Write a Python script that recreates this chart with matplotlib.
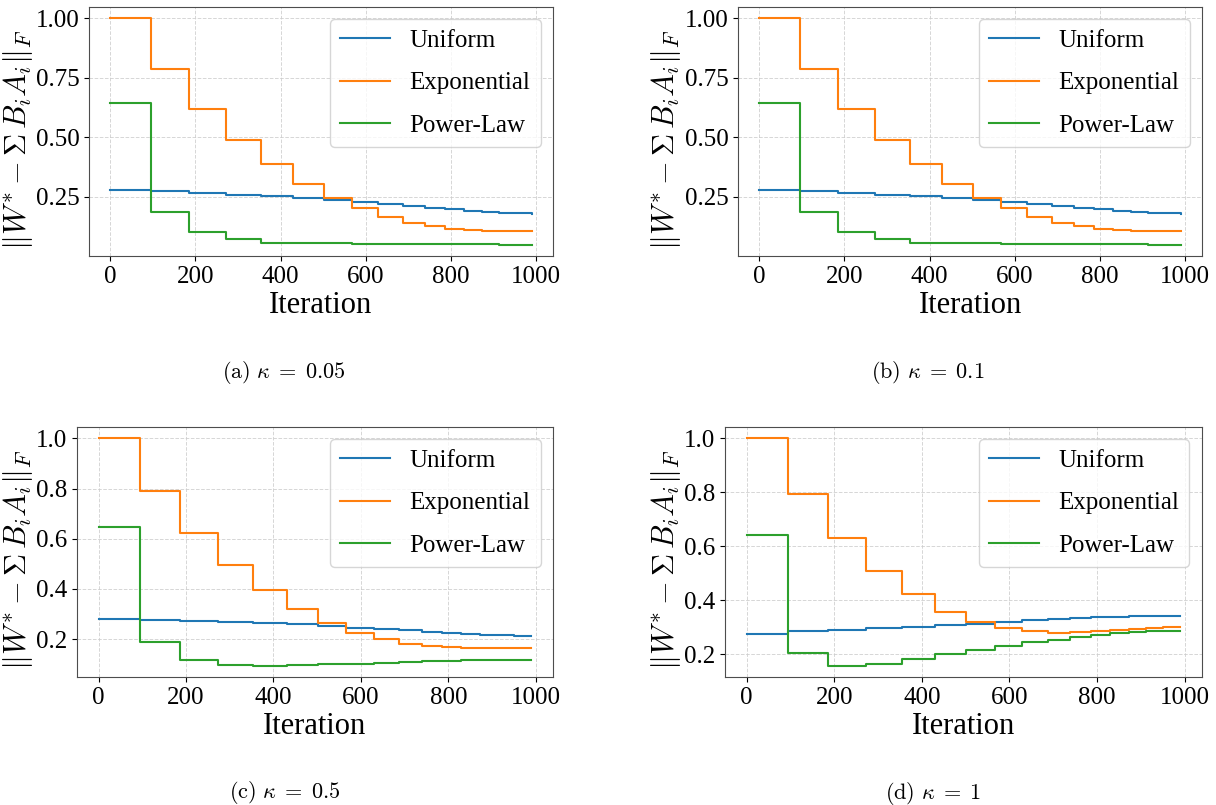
import numpy as np
import matplotlib
matplotlib.use("Agg")
import matplotlib.pyplot as plt

plt.rcParams['font.family'] = ['Liberation Serif', 'DejaVu Serif']
plt.rcParams['mathtext.fontset'] = 'cm'

# step positions (iteration where each plateau starts, last one = end of run)
iters = [0, 95, 186, 272, 354, 430, 501, 567, 629, 687, 739, 786, 830, 872, 912, 950, 990]

# (a) kappa = 0.05
a_uniform = [0.278, 0.272, 0.265, 0.258, 0.251, 0.243, 0.236, 0.228, 0.220, 0.212, 0.204, 0.197, 0.191, 0.187, 0.183, 0.180, 0.179]
a_expo = [1.0, 0.787, 0.620, 0.488, 0.386, 0.305, 0.243, 0.201, 0.163, 0.138, 0.125, 0.113, 0.108, 0.106, 0.105, 0.105, 0.105]
a_power = [0.645, 0.187, 0.100, 0.070, 0.057, 0.054, 0.053, 0.052, 0.051, 0.050, 0.050, 0.049, 0.049, 0.049, 0.048, 0.048, 0.048]

# (b) kappa = 0.1
b_uniform = [0.278, 0.272, 0.265, 0.258, 0.251, 0.243, 0.236, 0.228, 0.220, 0.212, 0.204, 0.197, 0.191, 0.187, 0.183, 0.180, 0.179]
b_expo = [1.0, 0.787, 0.620, 0.488, 0.386, 0.305, 0.243, 0.201, 0.163, 0.138, 0.125, 0.113, 0.108, 0.106, 0.105, 0.105, 0.105]
b_power = [0.645, 0.187, 0.100, 0.070, 0.057, 0.054, 0.053, 0.052, 0.051, 0.050, 0.050, 0.049, 0.049, 0.049, 0.048, 0.048, 0.048]

# (c) kappa = 0.5
c_uniform = [0.278, 0.274, 0.270, 0.266, 0.262, 0.258, 0.252, 0.246, 0.241, 0.236, 0.230, 0.225, 0.220, 0.217, 0.215, 0.213, 0.213]
c_expo = [1.0, 0.790, 0.624, 0.494, 0.395, 0.320, 0.264, 0.226, 0.200, 0.181, 0.172, 0.167, 0.165, 0.164, 0.163, 0.163, 0.163]
c_power = [0.645, 0.190, 0.118, 0.097, 0.094, 0.096, 0.099, 0.102, 0.106, 0.108, 0.111, 0.113, 0.115, 0.116, 0.116, 0.116, 0.116]

# (d) kappa = 1
d_uniform = [0.277, 0.285, 0.290, 0.297, 0.302, 0.307, 0.314, 0.321, 0.326, 0.330, 0.333, 0.337, 0.340, 0.342, 0.343, 0.343, 0.343]
d_expo = [1.0, 0.794, 0.631, 0.509, 0.422, 0.357, 0.319, 0.296, 0.286, 0.280, 0.282, 0.286, 0.290, 0.294, 0.297, 0.300, 0.300]
d_power = [0.643, 0.205, 0.158, 0.164, 0.183, 0.200, 0.217, 0.231, 0.244, 0.254, 0.263, 0.272, 0.278, 0.283, 0.285, 0.286, 0.286]

labels = ['Uniform', 'Exponential', 'Power-Law']
colors = ['tab:blue', 'tab:orange', 'tab:green']
captions = [r'$\mathrm{(a)}\ \kappa \;=\; 0.05$', r'$\mathrm{(b)}\ \kappa \;=\; 0.1$',
            r'$\mathrm{(c)}\ \kappa \;=\; 0.5$', r'$\mathrm{(d)}\ \kappa \;=\; 1$']

W, H = 1216, 805
fig = plt.figure(figsize=(W / 100, H / 100), dpi=100)

# axes boxes in pixels: left, top, right, bottom
boxes = [(89, 7, 553, 256), (738, 7, 1202, 256), (77, 427, 553, 677), (725, 427, 1202, 677)]
label_x = [35, 683, 35, 683]
cap_pos = [(284, 372), (928, 372), (285, 792), (933, 793)]
panels = [(a_uniform, a_expo, a_power), (b_uniform, b_expo, b_power),
          (c_uniform, c_expo, c_power), (d_uniform, d_expo, d_power)]

for i, (box, series) in enumerate(zip(boxes, panels)):
    l, t, r, b = box
    ax = fig.add_axes([l / W, 1 - b / H, (r - l) / W, (b - t) / H])
    for ys, lab, col in zip(series, labels, colors):
        ax.plot(iters, ys, drawstyle='steps-post', color=col, lw=1.5, label=lab)
    ax.grid(True, linestyle='--', color='0.8', lw=0.7, alpha=0.8)
    ax.set_xticks([0, 200, 400, 600, 800, 1000])
    if i < 2:
        ax.set_yticks([0.25, 0.5, 0.75, 1.0])
    ax.tick_params(labelsize=18)
    for sp in ax.spines.values():
        sp.set_color('0.3')
    ax.set_xlabel('Iteration', fontsize=22, labelpad=2)
    ax.set_ylabel(r'$\|W^{*} - \Sigma\, B_i A_i\|_F$', fontsize=22)
    ax.yaxis.set_label_coords(label_x[i] / W, 1 - ((t + b) / 2 + 8) / H, transform=fig.transFigure)
    ax.legend(loc='upper right', fontsize=18, labelspacing=0.8, fancybox=True)
    fig.text(cap_pos[i][0] / W, 1 - cap_pos[i][1] / H, captions[i], fontsize=16,
             ha='center', va='center')

fig.savefig('out.png', dpi=100)
